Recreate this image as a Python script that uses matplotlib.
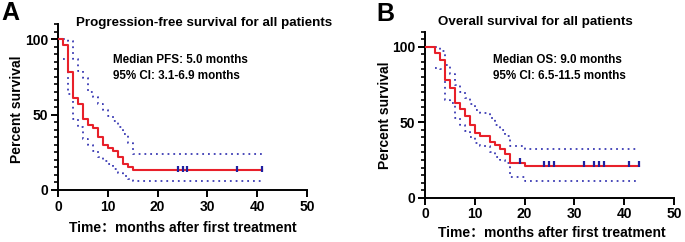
import numpy as np
from matplotlib import pyplot as plt
from matplotlib.ticker import MultipleLocator

# ---- data ----
pfs_t  = [0, 1, 2, 3, 4, 5, 6, 7, 8, 9, 10, 11, 12, 13, 14, 15, 41]
pfs_s  = [100, 96, 78, 61, 57, 47, 43, 41, 35, 30, 28, 26, 22, 17, 15, 13, 13]
pfs_ci_t = [1, 2, 3, 4, 5, 6, 7, 8, 9, 10, 11, 12, 13, 14, 15, 41]
pfs_hi = [100, 99, 87, 79, 74, 65, 62, 57, 53, 49, 46, 42, 37, 31, 24, 24]
pfs_lo = [87, 64, 47, 42, 34, 30, 26, 22, 19, 17, 14, 11, 9, 7, 6, 6]
pfs_cens = [24, 25, 26, 36, 41]

os_t  = [0, 2, 3, 4, 5, 6, 7, 8, 9, 10, 11, 13, 14, 15, 16, 17, 20, 43]
os_s  = [100, 96, 91, 78, 73, 63, 59, 54, 48, 43, 41, 37, 35, 32, 29, 23, 21, 21]
os_ci_t = [2, 3, 4, 5, 6, 7, 8, 9, 10, 11, 13, 14, 15, 16, 17, 20, 43]
os_hi = [100, 97, 88, 82, 75, 70, 66, 62, 58, 56, 53, 48, 45, 41, 34, 32, 32]
os_lo = [86, 85, 65, 63, 53, 48, 44, 40, 36, 34, 30, 27, 25, 23, 14, 11, 11]
os_cens = [19, 24, 25, 26, 32, 34, 35, 36, 41, 43]

titles = ['Progression-free survival for all patients', 'Overall survival for all patients']
notes  = ['Median PFS: 5.0 months\n95% CI: 3.1-6.9 months',
          'Median OS: 9.0 months\n95% CI: 6.5-11.5 months']
note_xy = [(11, 90), (13.7, 95)]
letters = ['A', 'B']
xlab = 'Time\uff1amonths after first treatment'

FAM = ['Liberation Sans', 'Noto Sans CJK SC', 'DejaVu Sans']
RED = '#e8202a'
BLUE = '#3c3cb4'

plt.rcParams['font.family'] = FAM
plt.rcParams['font.weight'] = 'bold'

fig = plt.figure(figsize=(6.85, 2.42), dpi=100)
ax_pos = [[0.0847, 0.215, 0.3635, 0.685], [0.6204, 0.183, 0.3635, 0.686]]
title_xy = [(0.298, 0.904), (0.781, 0.908)]
ylab_xy = [(0.025, 0.55), (0.562, 0.525)]
xlab_xy = [(0.267, 0.058), (0.805, 0.037)]
let_xy = [(0.002, 0.995), (0.549, 0.99)]

data = [(pfs_t, pfs_s, pfs_ci_t, pfs_hi, pfs_lo, pfs_cens),
        (os_t, os_s, os_ci_t, os_hi, os_lo, os_cens)]

for i, (t, s, ct, hi, lo, cens) in enumerate(data):
  ax = fig.add_axes(ax_pos[i])
  ax.step(ct, hi, where='post', color=BLUE, ls=(0, (1, 2.2)), lw=1.3, zorder=2)
  ax.step(ct, lo, where='post', color=BLUE, ls=(0, (1, 2.2)), lw=1.3, zorder=2)
  ax.step(t, s, where='post', color=RED, lw=1.5, zorder=3)
  idx = np.searchsorted(t, cens, side='right') - 1
  cs = np.asarray(s)[idx]
  ax.plot(cens, cs + 1.2, ls='none', marker='|', ms=4.2, mew=1.6, color='#2020a0', zorder=4)

  ax.set_xlim(0, 50)
  ax.set_ylim(0, 110)
  ax.set_xticks(range(0, 51, 10))
  ax.set_yticks([0, 50, 100])
  ax.yaxis.set_minor_locator(MultipleLocator(5))
  for sp in ['top', 'right']:
    ax.spines[sp].set_visible(False)
  for sp in ['left', 'bottom']:
    ax.spines[sp].set_linewidth(1.4)
  ax.tick_params(which='major', length=5, width=1.4, labelsize=10, pad=2)
  ax.tick_params(which='minor', axis='y', length=3, width=1.2)
  for lab in ax.get_xticklabels() + ax.get_yticklabels():
    lab.set_fontweight('bold')

  ax.text(note_xy[i][0], note_xy[i][1], notes[i], fontsize=8.4, fontweight='bold',
          va='top', ha='left', linespacing=1.4)

  fig.text(*title_xy[i], titles[i], fontsize=9.6, fontweight='bold', ha='center', va='center')
  fig.text(*ylab_xy[i], 'Percent survival', fontsize=10, fontweight='bold',
           rotation=90, ha='center', va='center')
  fig.text(*xlab_xy[i], xlab, fontsize=10, fontweight='bold', ha='center', va='center',
           family=FAM)
  fig.text(*let_xy[i], letters[i], fontsize=18, fontweight='bold', ha='left', va='top')

fig.savefig('out.png', dpi=100)
